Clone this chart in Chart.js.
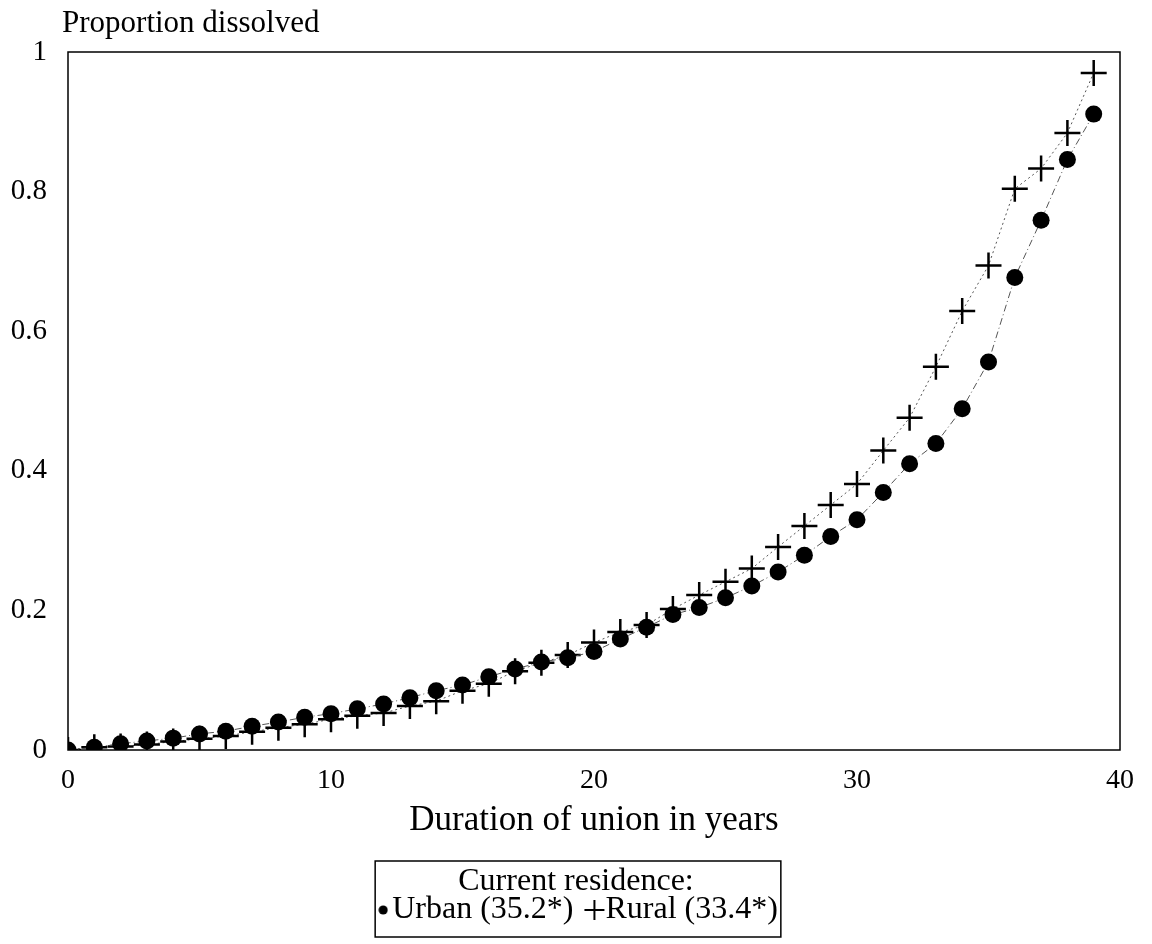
<!DOCTYPE html>
<html>
<head>
<meta charset="utf-8">
<script src="https://cdn.jsdelivr.net/npm/chart.js@4/dist/chart.umd.min.js"></script>
<style>
  html, body { margin: 0; padding: 0; background: #fff; }
</style>
</head>
<body>
<canvas id="chart" width="1152" height="944"></canvas>
<script>
// duration of union, in years
const years = [0, 1, 2, 3, 4, 5, 6, 7, 8, 9, 10, 11, 12, 13, 14, 15, 16, 17, 18, 19,
  20, 21, 22, 23, 24, 25, 26, 27, 28, 29, 30, 31, 32, 33, 34, 35, 36, 37, 38, 39];

// cumulative proportion of unions dissolved
const urban = [0, 0.004, 0.009, 0.013, 0.017, 0.023, 0.027, 0.034, 0.040, 0.047,
  0.052, 0.059, 0.066, 0.075, 0.085, 0.093, 0.105, 0.116, 0.126, 0.132,
  0.141, 0.159, 0.176, 0.194, 0.204, 0.218, 0.235, 0.255, 0.279, 0.306,
  0.330, 0.369, 0.410, 0.439, 0.489, 0.556, 0.677, 0.759, 0.846, 0.911];
const rural = [0, 0.004, 0.005, 0.008, 0.012, 0.016, 0.020, 0.026, 0.032, 0.037,
  0.044, 0.049, 0.053, 0.063, 0.070, 0.085, 0.095, 0.113, 0.125, 0.136,
  0.154, 0.169, 0.179, 0.202, 0.222, 0.241, 0.260, 0.291, 0.321, 0.351,
  0.381, 0.429, 0.476, 0.549, 0.629, 0.694, 0.804, 0.833, 0.884, 0.970];

const xTicks = [0, 10, 20, 30, 40];
const yTicks = [0, 0.2, 0.4, 0.6, 0.8, 1];

const seriesNames = ['Urban (35.2*)', 'Rural (33.4*)'];

const serif = '"Liberation Serif", "Times New Roman", serif';

// legend glyphs, drawn right of centre so they sit close to their text
function dotIcon() {
  const c = document.createElement('canvas');
  c.width = 26; c.height = 10;
  const g = c.getContext('2d');
  g.fillStyle = '#000';
  g.beginPath(); g.arc(21, 5, 4.6, 0, Math.PI * 2); g.fill();
  return c;
}
function crossIcon() {
  const c = document.createElement('canvas');
  c.width = 34; c.height = 22;
  const g = c.getContext('2d');
  g.strokeStyle = '#000'; g.lineWidth = 2;
  g.beginPath();
  g.moveTo(13, 11); g.lineTo(33, 11);
  g.moveTo(23, 1); g.lineTo(23, 21);
  g.stroke();
  return c;
}
const legendIcons = [dotIcon(), crossIcon()];

const framePlugin = {
  id: 'framePlugin',
  beforeDatasetsDraw(chart) {
    const { ctx, chartArea: a } = chart;
    ctx.save();
    ctx.strokeStyle = '#000';
    ctx.lineWidth = 1.5;
    ctx.strokeRect(a.left, a.top, a.right - a.left, a.bottom - a.top);
    ctx.restore();
  },
  afterDraw(chart) {
    const { ctx } = chart;
    ctx.save();
    ctx.fillStyle = '#000';
    ctx.font = '31px ' + serif;
    ctx.textBaseline = 'alphabetic';
    ctx.textAlign = 'left';
    ctx.fillText('Proportion dissolved', 62, 32);

    // box round the legend
    const lg = chart.legend;
    const boxes = lg.legendHitBoxes;
    if (boxes && boxes.length) {
      const left = Math.min(...boxes.map(b => b.left)) + 1;
      const right = Math.max(...boxes.map(b => b.left + b.width)) + 3;
      ctx.strokeStyle = '#000';
      ctx.lineWidth = 1.5;
      ctx.strokeRect(left, lg.top + 5, right - left, 76);
    }
    ctx.restore();
  }
};

new Chart(document.getElementById('chart'), {
  type: 'line',
  data: {
    datasets: [
      {
        label: seriesNames[0],
        data: years.map((x, i) => ({ x: x, y: urban[i] })),
        borderColor: '#555',
        borderWidth: 1,
        borderDash: [7, 3, 1, 3],
        pointStyle: 'circle',
        pointRadius: 8.5,
        pointBackgroundColor: '#000',
        pointBorderColor: '#000',
        pointBorderWidth: 0,
        fill: false,
        tension: 0
      },
      {
        label: seriesNames[1],
        data: years.map((x, i) => ({ x: x, y: rural[i] })),
        borderColor: '#555',
        borderWidth: 1,
        borderDash: [2, 3],
        pointStyle: 'cross',
        pointRadius: 13,
        pointBorderColor: '#000',
        pointBorderWidth: 2.5,
        fill: false,
        tension: 0
      }
    ]
  },
  options: {
    responsive: false,
    animation: false,
    devicePixelRatio: 1,
    layout: { padding: { top: 52, left: 0, right: 0, bottom: 8 } },
    scales: {
      x: {
        type: 'linear',
        min: 0,
        max: 40,
        afterBuildTicks: s => { s.ticks = xTicks.map(v => ({ value: v })); },
        // fixed band under the plot; extra room on the right keeps the frame off the edge
        afterFit: s => { s.height = 106; s.paddingRight = 32; },
        grid: { display: false, drawTicks: false },
        border: { display: false },
        ticks: {
          padding: 14,
          color: '#000',
          font: { family: serif, size: 28 },
          maxRotation: 0
        },
        title: {
          display: true,
          text: 'Duration of union in years',
          color: '#000',
          font: { family: serif, size: 35 },
          padding: { top: 0, bottom: 14 }
        }
      },
      y: {
        min: 0,
        max: 1,
        afterBuildTicks: s => { s.ticks = yTicks.map(v => ({ value: v })); },
        afterFit: s => { s.width = 68; },
        grid: { display: false, drawTicks: false },
        border: { display: false },
        ticks: {
          padding: 21,
          color: '#000',
          font: { family: serif, size: 29 },
          callback: v => String(v)
        }
      }
    },
    plugins: {
      tooltip: { enabled: false },
      legend: {
        position: 'bottom',
        title: {
          display: true,
          text: 'Current residence:',
          color: '#000',
          font: { family: serif, size: 32, lineHeight: 0.4375 },
          padding: { top: 10, bottom: 0 }
        },
        labels: {
          color: '#000',
          font: { family: serif, size: 32 },
          usePointStyle: true,
          boxWidth: 2,
          boxHeight: 10,
          padding: 14,
          generateLabels: chart => chart.data.datasets.map((ds, i) => ({
            text: ds.label,
            pointStyle: legendIcons[i],
            fillStyle: '#000',
            strokeStyle: '#000',
            lineWidth: 0,
            fontColor: '#000',
            hidden: false,
            datasetIndex: i
          }))
        }
      }
    }
  },
  plugins: [framePlugin]
});
</script>
</body>
</html>
